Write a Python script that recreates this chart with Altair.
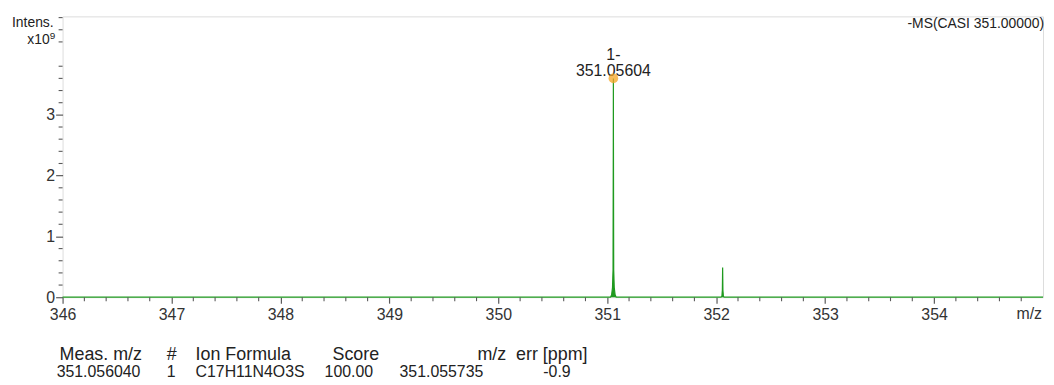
import altair as alt
import pandas as pd

# ---- data (intensity in units of 1e9) ----
mz = [346.0, 351.030, 351.040, 351.048, 351.053, 351.0553, 351.0560, 351.0567,
      351.059, 351.064, 351.072, 351.082, 352.040, 352.052, 352.0565, 352.0590,
      352.0615, 352.066, 352.078, 355.0]
intensity = [0.0, 0.0, 0.04, 0.16, 0.45, 2.55, 3.60, 2.55,
             0.45, 0.16, 0.04, 0.0, 0.0, 0.01, 0.12, 0.49,
             0.12, 0.01, 0.0, 0.0]

peak_mz = [351.05604]
peak_int = [3.60]
peak_rank = ["1-"]
peak_label = ["351.05604"]

x_major = [346, 347, 348, 349, 350, 351, 352, 353, 354]
x_minor = [round(346 + 0.2 * i, 1) for i in range(45) if i % 5 != 0]
y_major = [0, 1, 2, 3]
y_minor = [round(0.2 * i, 1) for i in range(24) if i % 5 != 0]

table_header = ["Meas. m/z", "#", "Ion Formula", "Score", "m/z", "err [ppm]"]
table_row = ["351.056040", "1", "C17H11N4O3S", "100.00", "351.055735", "-0.9"]

title_right = "-MS(CASI 351.00000)"

# ---- layout ----
W, H = 988, 283
GREEN = "#1f9a1f"
AXC = "#5a5a5a"
FONT = "Liberation Sans"

spec = pd.DataFrame({"mz": mz, "int": intensity})
peaks = pd.DataFrame({"mz": peak_mz, "int": peak_int, "rank": peak_rank, "lab": peak_label})

xs = alt.Scale(domain=[346, 355], nice=False, zero=False)
ys = alt.Scale(domain=[0, 4.62], nice=False, zero=True)

xax = alt.Axis(values=x_major, format="d", labelFontSize=16, labelColor="#333",
               labelFont=FONT, tickSize=6, tickColor=AXC, tickWidth=1.2,
               domain=False, grid=False, title=None, labelPadding=3, labelFlush=False)
yax = alt.Axis(values=y_major, format="d", labelFontSize=16, labelColor="#333",
               labelFont=FONT, tickSize=7, tickColor=AXC, tickWidth=1.2,
               domain=False, grid=False, title=None, labelPadding=1, labelFlush=False)

area = alt.Chart(spec).mark_area(color=GREEN, opacity=1).encode(
    x=alt.X("mz:Q", scale=xs, axis=xax),
    y=alt.Y("int:Q", scale=ys, axis=yax),
)
line = alt.Chart(spec).mark_line(color=GREEN, strokeWidth=1.2).encode(
    x=alt.X("mz:Q", scale=xs), y=alt.Y("int:Q", scale=ys)
)

xminor = alt.Chart(pd.DataFrame({"v": x_minor})).mark_rule(color=AXC, strokeWidth=1.1).encode(
    x=alt.X("v:Q", scale=xs), y=alt.value(H), y2=alt.value(H + 4)
)
yminor = alt.Chart(pd.DataFrame({"v": y_minor})).mark_rule(color=AXC, strokeWidth=1.1).encode(
    y=alt.Y("v:Q", scale=ys), x=alt.value(-4), x2=alt.value(0)
)

rank_txt = alt.Chart(peaks).mark_text(fontSize=16, font=FONT, color="#222", dy=-24).encode(
    x=alt.X("mz:Q", scale=xs), y=alt.Y("int:Q", scale=ys), text="rank:N"
)
lab_txt = alt.Chart(peaks).mark_text(fontSize=16, font=FONT, color="#222", dy=-7).encode(
    x=alt.X("mz:Q", scale=xs), y=alt.Y("int:Q", scale=ys), text="lab:N"
)
dot = alt.Chart(peaks).mark_circle(size=95, color="#f5a623", opacity=0.75).encode(
    x=alt.X("mz:Q", scale=xs), y=alt.Y("int:Q", scale=ys)
)

def txt(s, x, y, align="left", size=16, color="#222"):
    return alt.Chart(pd.DataFrame({"t": [s]})).mark_text(
        align=align, baseline="middle", fontSize=size, font=FONT, color=color
    ).encode(x=alt.value(x), y=alt.value(y), text="t:N")

annot = [
    txt(title_right, 989, 8, "right", 14),
    txt("Intens.", -9, 7, "right", 14),
    txt("x10", -13, 24, "right", 14),
    txt("9", -13, 20, "left", 10),
    txt("m/z", 987, 300, "right", 16, "#333"),
]

header_x = [-3, 105, 134, 272, 447, 457]
header_al = ["left", "left", "left", "left", "right", "left"]
row_x = [-6, 105, 134, 264, 424, 512]
row_al = ["left", "left", "left", "left", "right", "right"]
for s, x, a in zip(table_header, header_x, header_al):
    annot.append(txt(s, x, 341, a, 18))
for s, x, a in zip(table_row, row_x, row_al):
    annot.append(txt(s, x, 358, a, 16))

chart = alt.layer(area, line, xminor, yminor, rank_txt, lab_txt, dot, *annot).properties(
    width=W, height=H,
    autosize=alt.AutoSizeParams(type="none"),
    padding={"left": 55, "top": 7, "right": 3, "bottom": 86},
).configure_view(stroke=AXC, strokeWidth=1.5).configure(background="white")

chart.save("out.html", embed_options={"renderer": "svg", "actions": False})
